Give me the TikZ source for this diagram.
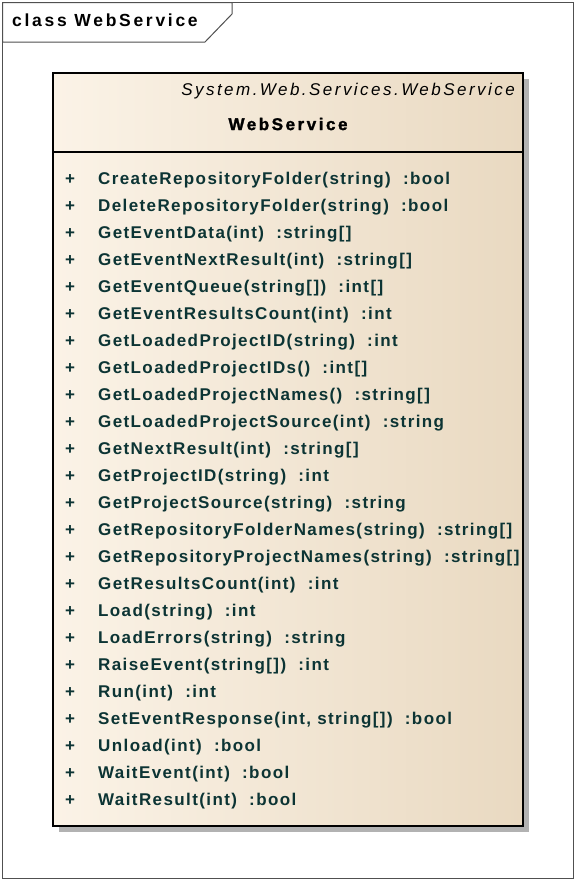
\documentclass[tikz,border=0pt]{standalone}
\usepackage{fontspec}
\setmainfont{Liberation Sans}
\newfontfamily\opfont[LetterSpace=8.2]{Liberation Sans}
\newfontfamily\stfont[LetterSpace=14.5]{Liberation Sans}
\newfontfamily\nmfont[LetterSpace=15,BoldFeatures={FakeBold=1.6}]{Liberation Sans}
\newfontfamily\ttlfont[LetterSpace=15.5]{Liberation Sans}
\usetikzlibrary{positioning}
\definecolor{optext}{RGB}{12,52,52}
\definecolor{boxleft}{RGB}{251,243,231}
\definecolor{boxright}{RGB}{233,217,193}
\definecolor{framecol}{RGB}{80,80,80}
\definecolor{shadowcol}{RGB}{178,178,178}
\tikzset{
  optxt/.style={anchor=west, inner sep=0pt, text=optext, font=\fontsize{17}{19}\opfont\bfseries},
  plus/.style={anchor=center, inner sep=0pt, text=optext, font=\fontsize{17}{19}\selectfont\bfseries}
}
\begin{document}
\begin{tikzpicture}[x=1pt,y=-1pt]
\useasboundingbox (0,0) rectangle (577,881);
% outer frame
\draw[framecol, line width=1pt] (2.5,2.5) rectangle (573.5,878.5);
\draw[framecol, line width=1pt, fill=white] (2.5,2.5) -- (232,2.5) -- (232,14) -- (205,42) -- (2.5,42) -- cycle;
\node[anchor=west, inner sep=0pt, font=\fontsize{17.5}{20}\ttlfont\bfseries] (title) at (12,20) {class WebService};
% class box
\fill[shadowcol] (59,79) rectangle (529,832);
\shade[left color=boxleft, right color=boxright] (53,73) rectangle (523,826);
\draw[black, line width=1.6pt] (53,73) rectangle (523,826);
\draw[black, line width=1.2pt] (53,152) -- (523,152);
\node[anchor=east, inner sep=0pt, font=\fontsize{17}{19}\stfont\itshape] (stereo) at (515,91) {System.Web.Services.WebService};
\node[anchor=center, inner sep=0pt, font=\fontsize{17}{19}\nmfont\bfseries] (cname) at (288,124) {WebService};
\foreach \t [count=\i] in {
  {CreateRepositoryFolder(string)\ \ :bool},
  {DeleteRepositoryFolder(string)\ \ :bool},
  {GetEventData(int)\ \ :string[]},
  {GetEventNextResult(int)\ \ :string[]},
  {GetEventQueue(string[])\ \ :int[]},
  {GetEventResultsCount(int)\ \ :int},
  {GetLoadedProjectID(string)\ \ :int},
  {GetLoadedProjectIDs()\ \ :int[]},
  {GetLoadedProjectNames()\ \ :string[]},
  {GetLoadedProjectSource(int)\ \ :string},
  {GetNextResult(int)\ \ :string[]},
  {GetProjectID(string)\ \ :int},
  {GetProjectSource(string)\ \ :string},
  {GetRepositoryFolderNames(string)\ \ :string[]},
  {GetRepositoryProjectNames(string)\ \ :string[]},
  {GetResultsCount(int)\ \ :int},
  {Load(string)\ \ :int},
  {LoadErrors(string)\ \ :string},
  {RaiseEvent(string[])\ \ :int},
  {Run(int)\ \ :int},
  {SetEventResponse(int, string[])\ \ :bool},
  {Unload(int)\ \ :bool},
  {WaitEvent(int)\ \ :bool},
  {WaitResult(int)\ \ :bool}} {
  \pgfmathsetmacro{\yy}{180+(\i-1)*27.0}
  \node[plus] (p\i) at (70,\yy) {+};
  \node[optxt] (op\i) at (98,\yy) {\t};
}
\end{tikzpicture}
\end{document}
